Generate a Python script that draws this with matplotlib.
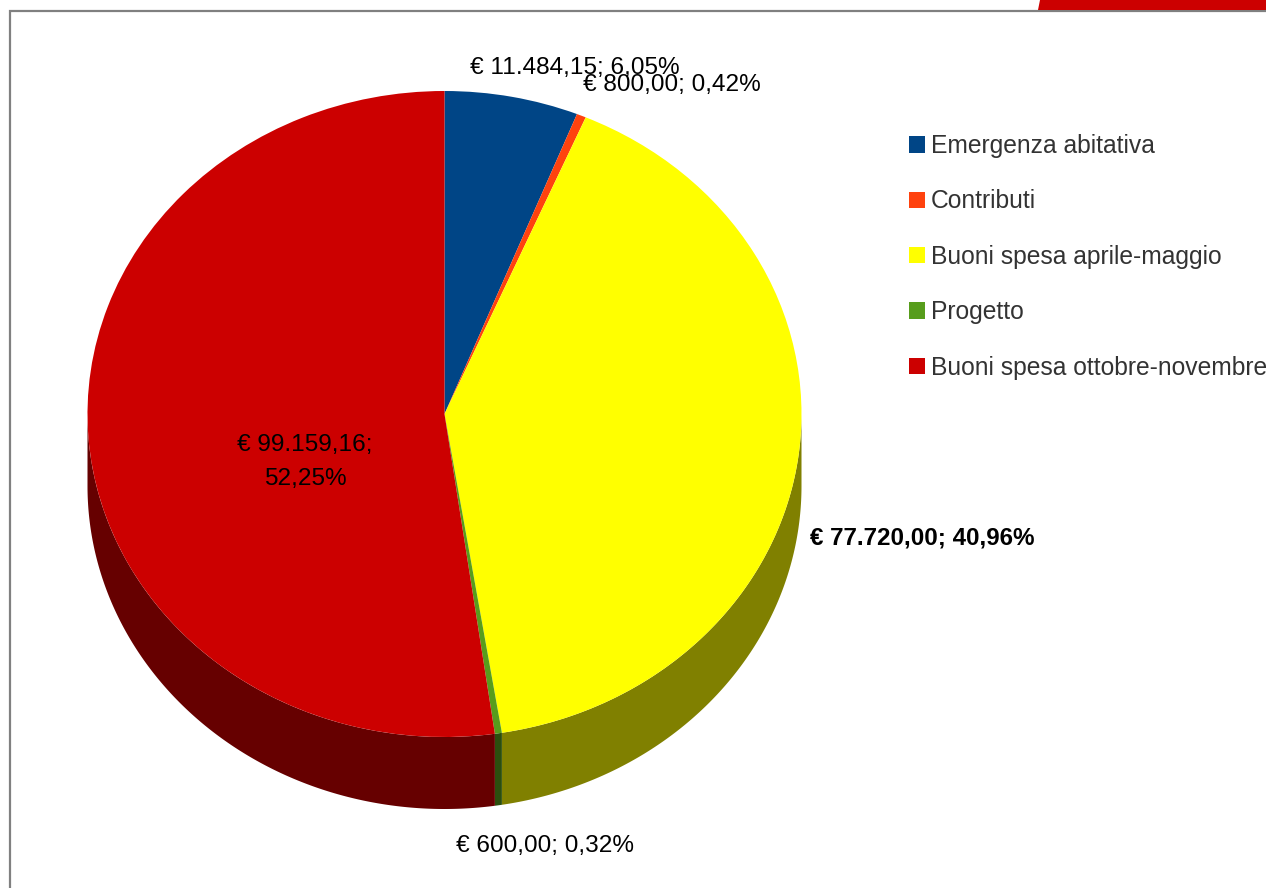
import numpy as np
import matplotlib
matplotlib.use("Agg")
import matplotlib.pyplot as plt
from matplotlib.patches import Polygon
from matplotlib.transforms import Affine2D

categories = ["Emergenza abitativa", "Contributi", "Buoni spesa aprile-maggio",
              "Progetto", "Buoni spesa ottobre-novembre"]
values = [11484.15, 800.00, 77720.00, 600.00, 99159.16]
value_labels = ["€ 11.484,15; 6,05%", "€ 800,00; 0,42%", "€ 77.720,00; 40,96%",
                "€ 600,00; 0,32%", "€ 99.159,16;\n52,25%"]
colors = ["#004586", "#FF420E", "#FFFF00", "#579D1C", "#CC0000"]
side_colors = ["#002343", "#802107", "#808000", "#2B4F0E", "#660000"]

W, H = 1266, 888
CX, CY, RX, RY, DEPTH = 444.5, 414, 357, 323, 72
LABEL_POS = [(575, 68), (672, 85), (922, 538), (545, 846), (305, 462)]
LABEL_SIZE = [17.6, 17.6, 17.4, 17.6, 17.6]
family = "Liberation Sans"

fig = plt.figure(figsize=(W / 100, H / 100), dpi=100, facecolor="white")
ax = fig.add_axes([0, 0, 1, 1])

# Top face: real pie, mapped into the tilted ellipse in pixel coordinates
wedges, _ = ax.pie(values, colors=colors, startangle=90, counterclock=False, radius=1,
                   wedgeprops=dict(linewidth=0))
ax.set_aspect("auto")
ax.set_xlim(0, W)
ax.set_ylim(H, 0)
ax.axis("off")
face = Affine2D().scale(RX, -RY).translate(CX, CY) + ax.transData
for w in wedges:
    w.set_transform(face)
    w.set_zorder(3)

# Extruded side, from the same shares
edges = np.concatenate([[0], np.cumsum(values)]) / np.sum(values) * 2 * np.pi
for a0, a1, c in zip(edges[:-1], edges[1:], side_colors):
    lo, hi = max(a0, np.pi / 2), min(a1, 3 * np.pi / 2)
    if hi <= lo:
        continue
    t = np.linspace(lo, hi, 200)
    x = CX + RX * np.sin(t)
    y = CY - RY * np.cos(t)
    pts = np.r_[np.c_[x, y], np.c_[x, y + DEPTH][::-1]]
    ax.add_patch(Polygon(pts, closed=True, fc=c, ec="none", zorder=2))

# Frame and corner band
ax.plot([10, 10, W], [H, 11, 11], color="#808080", lw=1.6, zorder=1, solid_joinstyle="miter")
ax.add_patch(Polygon([(1038, 10), (1040, 0), (W, 0), (W, 10)], closed=True, fc="#CC0000", ec="none", zorder=1))

# Data labels
for (x, y), s, fs in zip(LABEL_POS, value_labels, LABEL_SIZE):
    ax.text(x, y, s, ha="center", va="center", family=family, fontsize=fs, color="black",
            fontweight="bold" if s.startswith("€ 77") else "normal",
            linespacing=1.75, zorder=5)

# Legend
leg = ax.legend(wedges, categories, loc="upper left", bbox_to_anchor=(909 / W, 1 - 134 / H),
                frameon=False, prop=dict(family=family, size=17.7), labelcolor="#333333",
                handlelength=0.65, handleheight=0.65, handletextpad=0.25,
                labelspacing=1.277, borderpad=0, borderaxespad=0)

fig.savefig("out.png", dpi=100, facecolor="white")
